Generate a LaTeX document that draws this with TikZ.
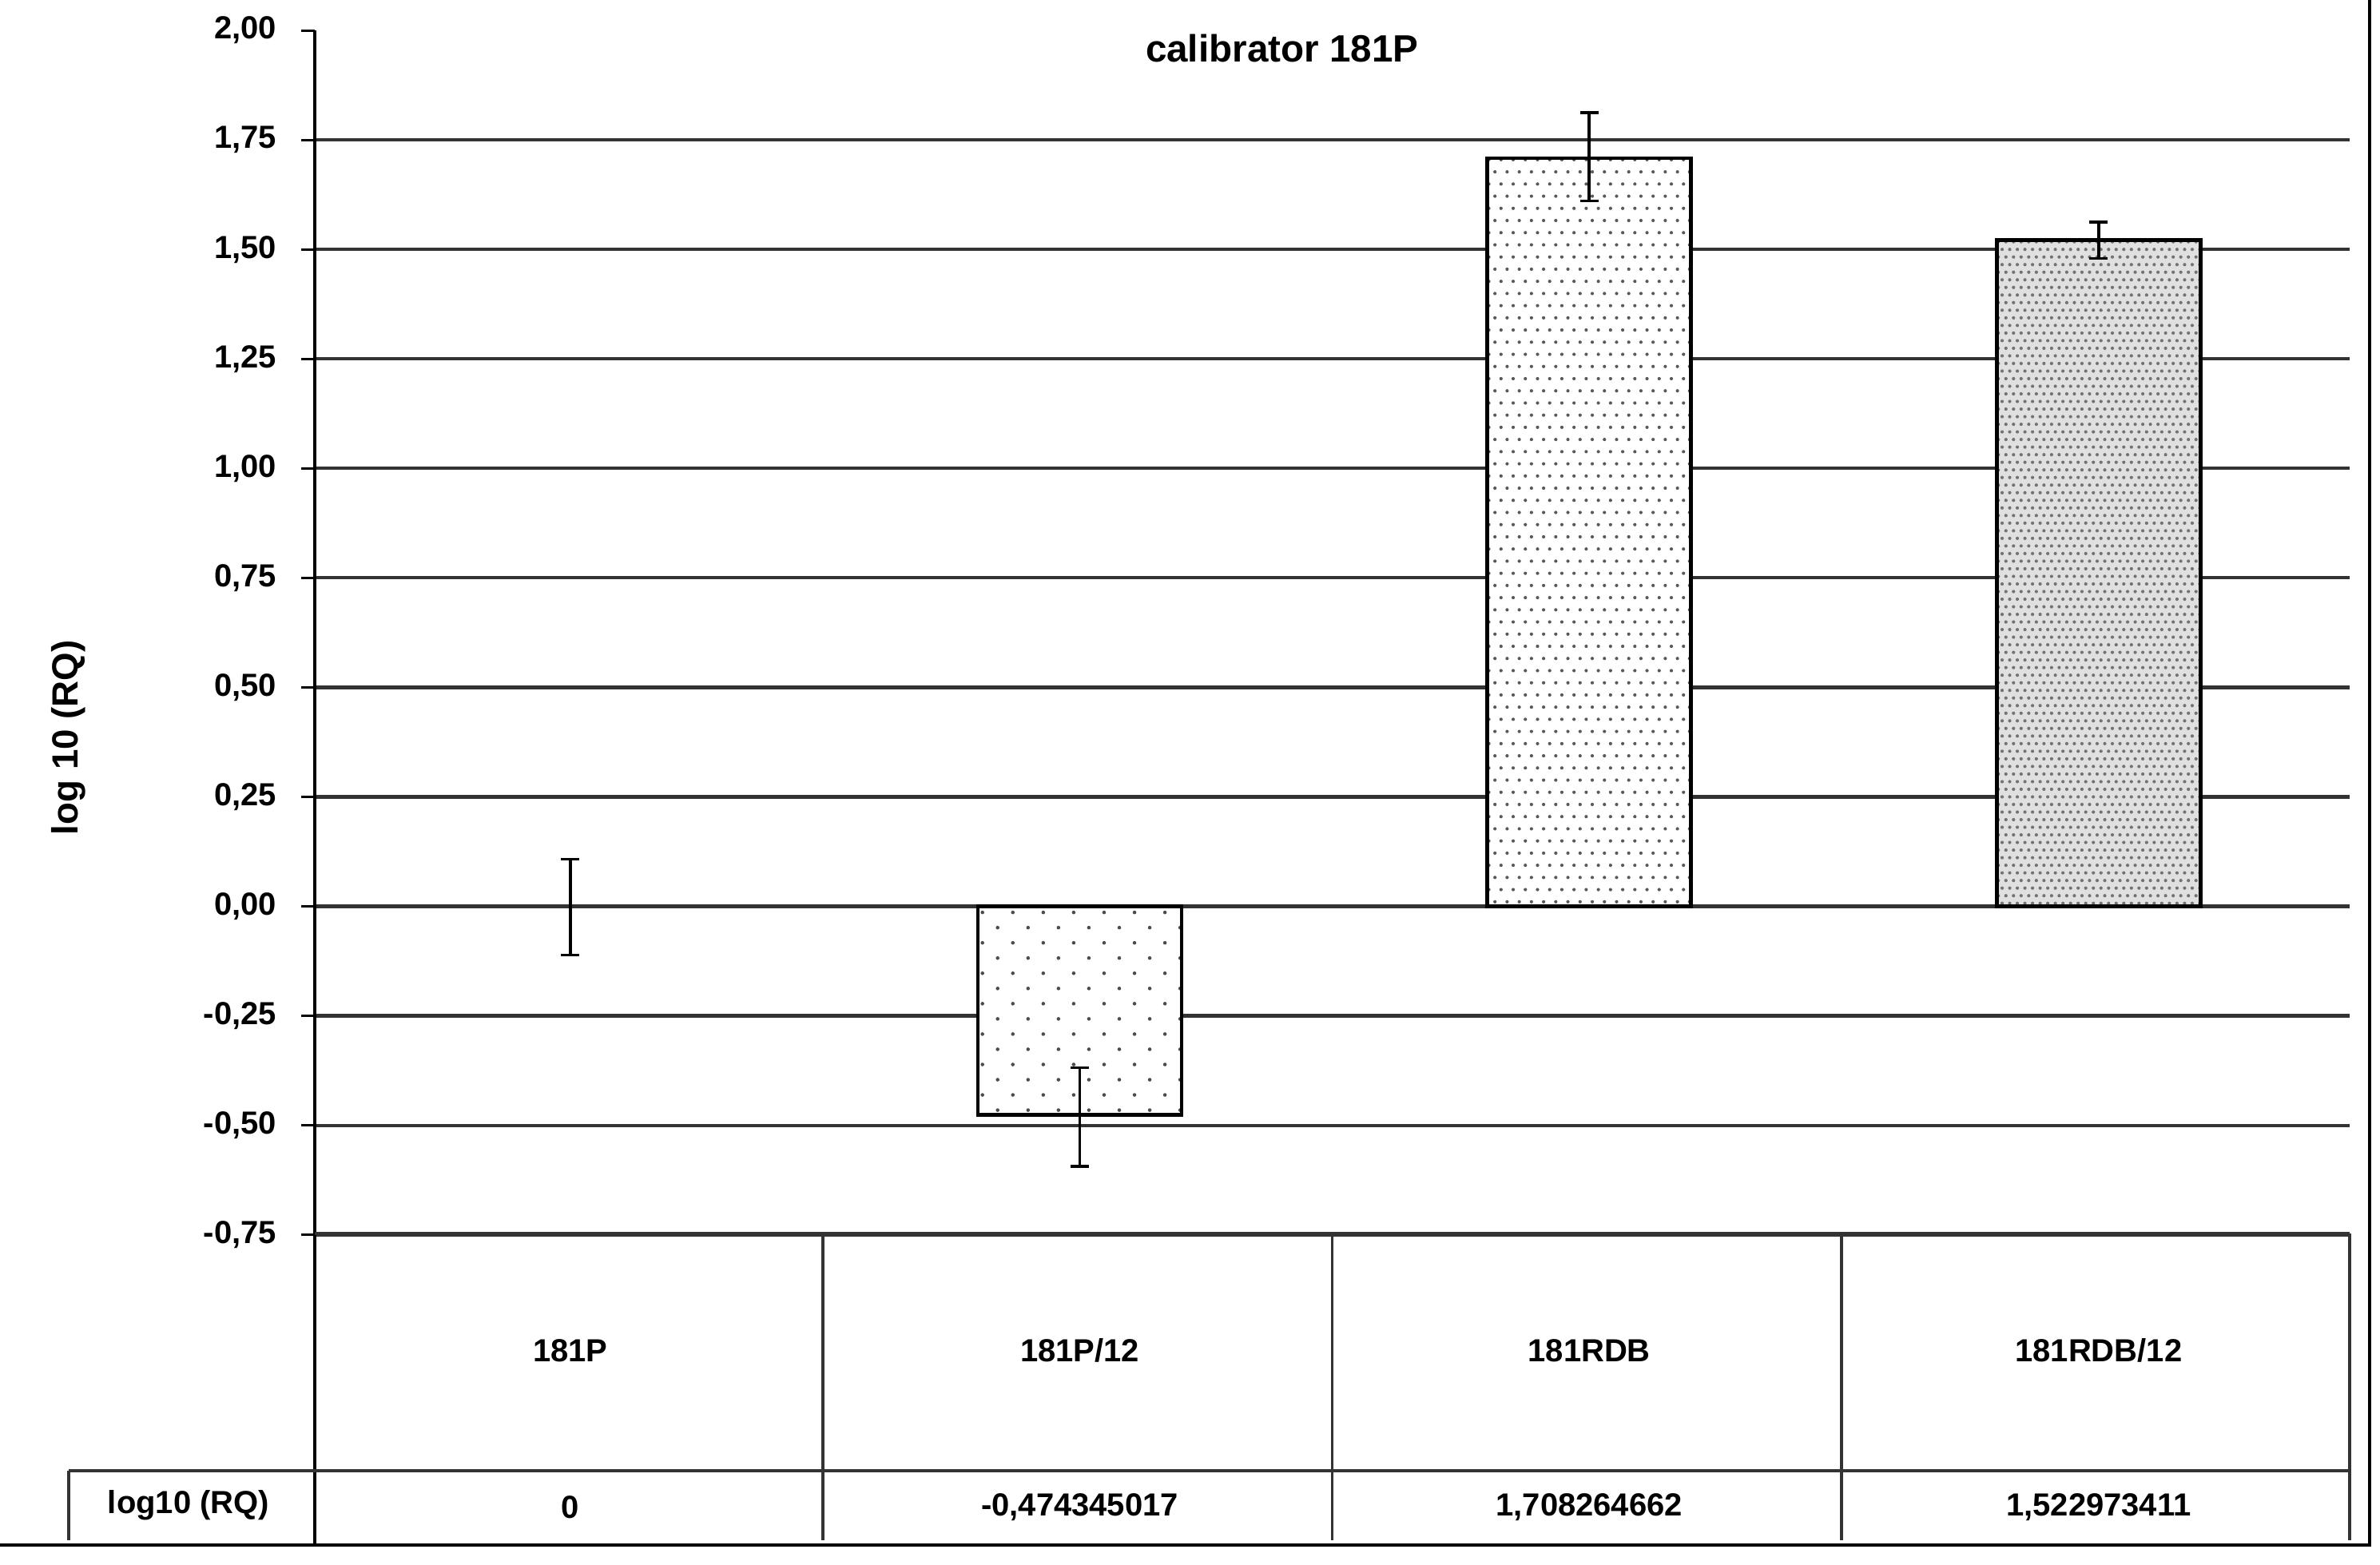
\documentclass[tikz,border=0pt]{standalone}
\usepackage{fontspec}
\setmainfont{Liberation Sans}
\begin{document}
\begin{tikzpicture}[x=1pt,y=-1pt,
  lbl/.style={font=\bfseries\fontsize{21}{24}\selectfont,inner sep=0pt},
  grid/.style={line width=2.2pt,black!80},
  bar/.style={draw=black,line width=2.4pt},
  err/.style={line width=1.8pt}]
\useasboundingbox (0,0) rectangle (1565,1029);
\fill[white] (0,0) rectangle (1565,1029);
% gridlines
\foreach \v in {1.75,1.5,1.25,1,0.75,0.5,0.25,0,-0.25,-0.5,-0.75}
  \draw[grid] (207,{596-288*\v}) -- (1545,{596-288*\v});
\foreach \v/\t in {2/{2,00},1.75/{1,75},1.5/{1,50},1.25/{1,25},1/{1,00},0.75/{0,75},0.5/{0,50},0.25/{0,25},0/{0,00},-0.25/{-0,25},-0.5/{-0,50},-0.75/{-0,75}}{
  \draw[line width=1.5pt] (198,{596-288*\v}) -- (207,{596-288*\v});
  \node[lbl,anchor=east] at (182,{596-288*\v}) {\t};}
% axis
\draw[line width=2pt] (207,20) -- (207,1015);
% bars with dots
\fill[white] (643,596) rectangle (777,733);
\begin{scope}
 \clip (643,596) rectangle (777,733);
 \foreach \i in {0,...,7} \foreach \j in {0,...,14}
   \fill[black!70] ({646+\i*20+mod(\j,2)*10},{600+\j*10}) circle (1.2);
\end{scope}
\draw[bar] (643,596) rectangle (777,733);
\fill[white] (978,104) rectangle (1112,596);
\begin{scope}
 \clip (978,104) rectangle (1112,596);
 \foreach \i in {0,...,17} \foreach \j in {0,...,62}
   \fill[black!65] ({979+\i*8+mod(\j,2)*4},{105+\j*8}) circle (1.1);
\end{scope}
\draw[bar] (978,104) rectangle (1112,596);
\begin{scope}
 \clip (1313,158) rectangle (1447,596);
 \fill[black!12] (1313,158) rectangle (1447,596);
 \foreach \i in {0,...,27} \foreach \j in {0,...,88}
   \fill[black!55] ({1314+\i*5+mod(\j,2)*2.5},{159+\j*5}) circle (1.1);
\end{scope}
\draw[bar] (1313,158) rectangle (1447,596);
% error bars
\foreach \x/\a/\b in {375/565/628,710/702/767,1045/74/132,1380/146/170}{
  \draw[err] (\x,\a) -- (\x,\b);
  \draw[err] (\x-6,\a) -- (\x+6,\a);
  \draw[err] (\x-6,\b) -- (\x+6,\b);}
% title
\node[font=\bfseries\fontsize{25}{28}\selectfont] (title) at (843,32) {calibrator 181P};
\node[lbl,rotate=90] (ylab) at (45,485) {\fontsize{24}{26}\selectfont log 10 (RQ)};
% table
\draw[line width=2pt,black!80] (207,811) -- (1545,811);
\foreach \x in {541,876,1211,1545} \draw[line width=2pt,black!80] (\x,811) -- (\x,1013);
\draw[line width=2.2pt,black!80] (45,967) -- (1545,967);
\draw[line width=2pt,black!80] (45,967) -- (45,1013);
\node[lbl] (c1) at (375,888) {181P};
\node[lbl] (c2) at (710,888) {181P/12};
\node[lbl] (c3) at (1045,888) {181RDB};
\node[lbl] (c4) at (1380,888) {181RDB/12};
\node[lbl] (rh) at (124,990) {log10 (RQ)};
\node[lbl] (v1) at (375,991) {0};
\node[lbl] (v2) at (710,991) {-0,474345017};
\node[lbl] (v3) at (1045,991) {1,708264662};
\node[lbl] (v4) at (1380,991) {1,522973411};
% outer frame
\draw[line width=2.2pt] (0,1016) -- (1558,1016) -- (1558,0);
\end{tikzpicture}
\end{document}
